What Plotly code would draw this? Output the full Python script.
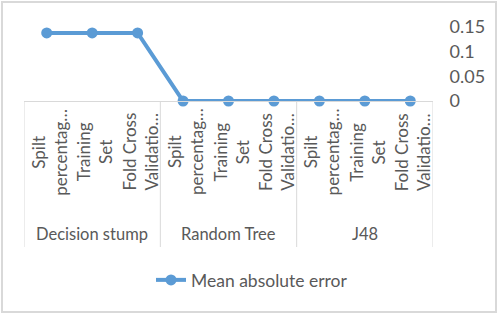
import plotly.graph_objects as go

group_names = ["Decision stump", "Random Tree", "J48"]
method_labels = ["Spilt<br>percentag…", "Training<br>Set", "Fold Cross<br>Validatio…"]
mae = [0.138, 0.138, 0.138, 0, 0, 0, 0, 0, 0]
y_ticks = [0, 0.05, 0.1, 0.15]
y_labels = ["0", "0.05", "0.1", "0.15"]
series_name = "Mean absolute error"

FONT = "Lato, sans-serif"
GRAY = "#595959"
BLUE = "#5B9BD5"
LINE_GRAY = "#D9D9D9"

n_m = len(method_labels)
xs = list(range(len(group_names) * n_m))

fig = go.Figure()
fig.add_trace(go.Scatter(
    x=xs, y=mae, name=series_name, mode="lines+markers",
    line=dict(color=BLUE, width=4), marker=dict(color=BLUE, size=11),
    cliponaxis=False, showlegend=True,
))

W, H = 501, 317
L, R, T, B = 24, 68, 27, 216
pw, ph = W - L - R, H - T - B


def py(pix):
    """pixel row -> paper y"""
    return (T + ph - pix) / ph


# inner category labels (rotated) and group labels
for gi, g in enumerate(group_names):
    for mi, m in enumerate(method_labels):
        fig.add_annotation(x=xs[gi * n_m + mi], y=py(152), xref="x", yref="paper",
                           text=m, textangle=-90, showarrow=False, xshift=2,
                           font=dict(size=17, color=GRAY, family=FONT), align="center",
                           xanchor="center", yanchor="middle")
    fig.add_annotation(x=xs[gi * n_m + (n_m - 1) / 2] if False else gi * n_m + (n_m - 1) / 2,
                       y=py(233.5), xref="x", yref="paper", text=g, showarrow=False,
                       font=dict(size=16.5, color=GRAY, family=FONT),
                       xanchor="center", yanchor="middle")

# group dividers
for gi in range(len(group_names) + 1):
    xb = gi * n_m - 0.5
    fig.add_shape(type="line", xref="x", yref="paper", x0=xb, x1=xb, y0=0, y1=py(247),
                  line=dict(color=LINE_GRAY, width=1))

fig.update_layout(
    width=W, height=H, margin=dict(l=L, r=R, t=T, b=B),
    paper_bgcolor="white", plot_bgcolor="white",
    font=dict(family=FONT, color=GRAY, size=16),
    showlegend=True,
    legend=dict(orientation="h", xref="container", yref="container",
                x=0.503, xanchor="center", y=1 - 280 / H, yanchor="middle",
                font=dict(size=17.5, color=GRAY)),
    xaxis=dict(range=[-0.5, len(xs) - 0.5], showline=True, linecolor=LINE_GRAY, linewidth=1,
               showgrid=False, zeroline=False, showticklabels=False, ticks=""),
    yaxis=dict(side="right", range=[0, 0.15], tickvals=y_ticks, ticktext=y_labels,
               showgrid=False, zeroline=False, showline=False, ticks="outside", ticklen=12,
               tickcolor="rgba(0,0,0,0)", tickfont=dict(size=18, color=GRAY)),
)
fig.add_shape(type="rect", xref="paper", yref="paper",
              x0=(2 - L) / pw, x1=(496 - L) / pw, y0=py(312), y1=py(2),
              line=dict(color=LINE_GRAY, width=2), fillcolor="rgba(0,0,0,0)", layer="below")
fig.write_html("out.html")
